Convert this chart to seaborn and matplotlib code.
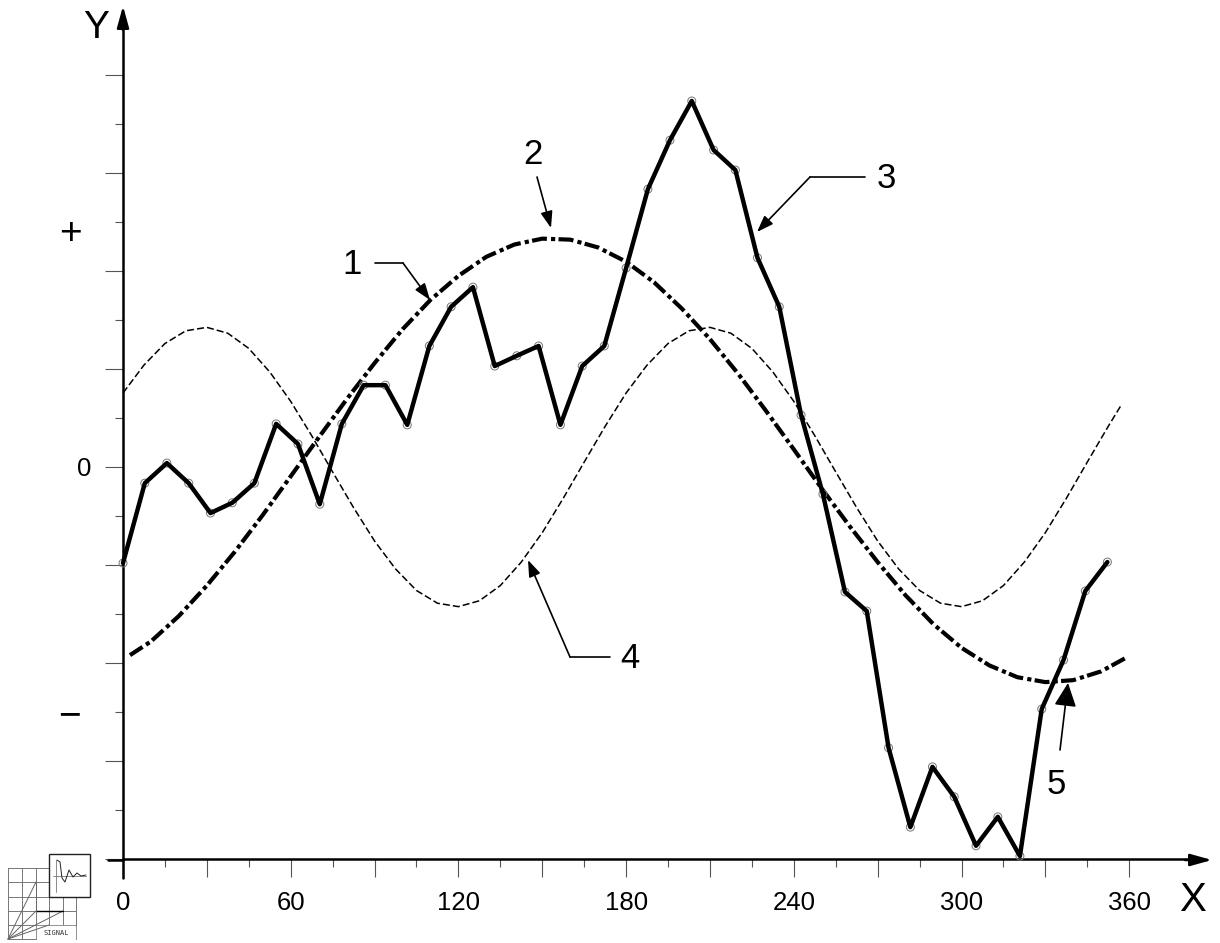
# signal curves with numbered callouts
import pandas as pd
import matplotlib
matplotlib.use('Agg')
import matplotlib.pyplot as plt
import seaborn as sns
from matplotlib.ticker import FixedLocator, FuncFormatter, NullFormatter

# measured signal (curve 3)
signal_x = [0.0, 7.8, 15.7, 23.5, 31.3, 39.1, 47.0, 54.8, 62.6, 70.4, 78.3, 86.1, 93.9, 101.7, 109.6, 117.4,
            125.2, 133.0, 140.9, 148.7, 156.5, 164.3, 172.2, 180.0, 187.8, 195.7, 203.5, 211.3, 219.1, 227.0,
            234.8, 242.6, 250.4, 258.3, 266.1, 273.9, 281.7, 289.6, 297.4, 305.2, 313.0, 320.9, 328.7, 336.5,
            344.3, 352.2]
signal_y = [-1.96, -0.33, 0.08, -0.33, -0.94, -0.73, -0.33, 0.88, 0.47, -0.76, 0.88, 1.67, 1.67, 0.86, 2.47, 3.27,
            3.67, 2.06, 2.27, 2.47, 0.86, 2.06, 2.47, 4.06, 5.67, 6.67, 7.47, 6.47, 6.06, 4.27,
            3.27, 1.06, -0.55, -2.55, -2.94, -5.73, -7.35, -6.12, -6.73, -7.73, -7.14, -7.94, -4.94, -3.94,
            -2.53, -1.94]

# first harmonic (curve 2, dash-dot)
first_x = [2.5, 10, 20, 30, 40, 50, 60, 70, 80, 90, 100, 110, 120, 130, 140, 150, 160, 170, 180, 190, 200, 210,
           220, 230, 240, 250, 260, 270, 280, 290, 300, 310, 320, 330, 340, 350, 359.6]
first_y = [-3.84, -3.56, -3.04, -2.42, -1.73, -0.98, -0.19, 0.60, 1.38, 2.12, 2.81, 3.41, 3.90, 4.29, 4.54, 4.66,
           4.64, 4.48, 4.19, 3.77, 3.23, 2.61, 1.91, 1.15, 0.36, -0.44, -1.21, -1.94, -2.62, -3.21, -3.69, -4.05,
           -4.29, -4.39, -4.35, -4.17, -3.87]

# second harmonic (curve 4, thin dashes)
second_x = [0, 7.5, 15, 22.5, 30, 37.5, 45, 52.5, 60, 67.5, 75, 82.5, 90, 97.5, 105, 112.5, 120, 127.5, 135, 142.5,
            150, 157.5, 165, 172.5, 180, 187.5, 195, 202.5, 210, 217.5, 225, 232.5, 240, 247.5, 255, 262.5, 270,
            277.5, 285, 292.5, 300, 307.5, 315, 322.5, 330, 337.5, 345, 352.5, 357]
second_y = [1.51, 2.08, 2.52, 2.78, 2.85, 2.73, 2.42, 1.94, 1.34, 0.64, -0.10, -0.83, -1.51, -2.08, -2.52, -2.78,
            -2.85, -2.73, -2.42, -1.94, -1.34, -0.64, 0.10, 0.83, 1.51, 2.08, 2.52, 2.78, 2.85, 2.73, 2.42, 1.94,
            1.34, 0.64, -0.10, -0.83, -1.51, -2.08, -2.52, -2.78, -2.85, -2.73, -2.42, -1.94, -1.34, -0.64, 0.10,
            0.83, 1.25]

x_major = [0, 30, 60, 90, 120, 150, 180, 210, 240, 270, 300, 330, 360]
x_minor = [15, 45, 75, 105, 135, 165, 195, 225, 255, 285, 315, 345]
y_major = [-8, -6, -4, -2, 0, 2, 4, 6, 8]
y_minor = [-7, -5, -3, -1, 1, 3, 5, 7]
x_labels = [0, 60, 120, 180, 240, 300, 360]

sns.set_theme(style='white')
plt.rcParams['font.family'] = ['Liberation Sans', 'DejaVu Sans']

fig = plt.figure(figsize=(12.2, 9.43), dpi=100)
ax = fig.add_axes([0, 0, 1, 1])
ax.patch.set_alpha(0)
ax.set_xlim(-123 / 2.795, (1220 - 123) / 2.795)
ax.set_ylim((467 - 943) / 49, 467 / 49)


def pt(px, py):
    # picture pixels to data position
    return (px - 123) / 2.795, (467 - py) / 49


# curves
sns.lineplot(x=second_x, y=second_y, ax=ax, color='black', lw=1.1, linestyle=(0, (4.6, 2)), zorder=2)
sns.lineplot(x=first_x, y=first_y, ax=ax, color='black', lw=3.0, linestyle=(0, (3.6, 1, 1, 0.8)), zorder=3)
sns.scatterplot(x=signal_x, y=signal_y, ax=ax, s=33, facecolors='none', edgecolor='#777777', linewidth=0.7, zorder=4)
sns.lineplot(x=signal_x, y=signal_y, ax=ax, color='black', lw=3.2, zorder=5)

# axes and ticks
sns.despine(ax=ax)
ax.spines['left'].set_position(('data', 0))
ax.spines['bottom'].set_position(('data', -8))
ax.spines['left'].set_bounds(-8, 9.2)
ax.spines['bottom'].set_bounds(0, 385)
for s in ['left', 'bottom']:
    ax.spines[s].set_linewidth(1.8)
    ax.spines[s].set_color('black')

ax.xaxis.set_major_locator(FixedLocator(x_major))
ax.xaxis.set_minor_locator(FixedLocator(x_minor))
ax.yaxis.set_major_locator(FixedLocator(y_major))
ax.yaxis.set_minor_locator(FixedLocator(y_minor))
ax.xaxis.set_major_formatter(FuncFormatter(lambda v, p: f'{int(v)}' if int(v) in x_labels else ''))
ax.yaxis.set_major_formatter(NullFormatter())
ax.tick_params(axis='both', which='major', direction='out', length=13, width=0.8, color='#555555',
               bottom=True, left=True, labelsize=18.5, labelcolor='black', pad=10)
ax.tick_params(axis='both', which='minor', direction='out', length=6, width=0.8, color='#555555',
               bottom=True, left=True)

ax.plot(*zip(pt(123, 860), pt(123, 878)), color='black', lw=1.8, zorder=6)
ax.plot(*zip(pt(108, 860), pt(123, 860)), color='black', lw=1.8, zorder=6)

# arrow heads on the axes
ax.annotate('', xy=pt(123, 6), xytext=pt(123, 30), arrowprops=dict(arrowstyle='-|>,head_length=0.65,head_width=0.18',
            color='black', lw=1.8, shrinkA=0, shrinkB=0, mutation_scale=20))
ax.annotate('', xy=pt(1212, 860), xytext=pt(1185, 860), arrowprops=dict(arrowstyle='-|>,head_length=0.65,head_width=0.18',
            color='black', lw=1.8, shrinkA=0, shrinkB=0, mutation_scale=20))

# axis letters
ax.text(*pt(96, 28), 'Y', fontsize=28, ha='center', va='center', color='black')
ax.text(*pt(1193, 900), 'X', fontsize=29, ha='center', va='center', color='black')
ax.text(*pt(70, 234), '+', fontsize=28, ha='center', va='center', color='black')
ax.text(*pt(84, 469), '0', fontsize=18.5, ha='center', va='center', color='black')
ax.text(*pt(70, 716), '\u2212', fontsize=28, ha='center', va='center', color='black')

# callouts
callouts = [('1', (352, 264), [(375, 263), (403, 263)], (430, 300)),
            ('2', (533, 155), [(537, 177)], (551, 228)),
            ('3', (886, 179), [(865, 177), (810, 177)], (757, 232)),
            ('4', (630, 659), [(610, 657), (570, 657)], (528, 560))]
for label, tpos, leader, tip in callouts:
    ax.text(*pt(*tpos), label, fontsize=25, ha='center', va='center', color='black', zorder=7)
    if len(leader) > 1:
        ax.plot(*zip(pt(*leader[0]), pt(*leader[1])), color='black', lw=1.2, zorder=7)
    ax.annotate('', xy=pt(*tip), xytext=pt(*leader[-1]),
                arrowprops=dict(arrowstyle='-|>,head_length=0.5,head_width=0.18', color='black', lw=1.2,
                                shrinkA=0, shrinkB=0, mutation_scale=20), zorder=7)

ax.text(*pt(1056, 784), '5', fontsize=25, ha='center', va='center', color='black', zorder=7)
ax.annotate('', xy=pt(1068, 683), xytext=pt(1060, 750),
            arrowprops=dict(arrowstyle='-|>,head_length=0.72,head_width=0.34', color='black', lw=1.2,
                            shrinkA=0, shrinkB=0, mutation_scale=20), zorder=7)

# logo, bottom left corner
logo = fig.add_axes([0, 0, 100 / 1220, 100 / 943])
logo.set_xlim(0, 100)
logo.set_ylim(943, 843)
logo.axis('off')
logo.patch.set_alpha(0)
for gx in [8, 22, 36, 49, 63, 76]:
    logo.plot([gx, gx], [868, 939], color='#777777', lw=0.7)
for gy in [868, 882, 897, 911, 925, 939]:
    logo.plot([8, 76], [gy, gy], color='#777777', lw=0.7)
logo.fill([37, 75.5, 75.5, 37], [926, 926, 938.5, 938.5], color='white', zorder=2)
logo.text(56, 933, 'SIGNAL', fontsize=5, ha='center', va='center', color='#333333',
          family='DejaVu Sans Mono', zorder=3)
for ex, ey in [(36, 882), (36, 911), (63, 911), (49, 925)]:
    logo.plot([8, ex], [939, ey], color='#666666', lw=0.7, zorder=3)
logo.plot([36, 63], [911, 911], color='black', lw=1.0, zorder=3)
logo.plot([36, 36], [882, 911], color='#666666', lw=0.7, zorder=3)
logo.fill([49, 90, 90, 49], [854, 854, 897, 897], facecolor='white', edgecolor='#222222', lw=1.0, zorder=4)
logo.plot([53, 86], [875.5, 875.5], color='#777777', lw=0.6, zorder=5)
logo.plot([56.5, 56.5], [860, 892], color='#777777', lw=0.6, zorder=5)
logo.plot([57, 60, 62, 65, 69, 73, 77, 81, 86], [860, 862, 878, 882, 870, 877, 873, 876, 875],
          color='#222222', lw=0.7, zorder=6)

fig.savefig('out.png', dpi=100)
